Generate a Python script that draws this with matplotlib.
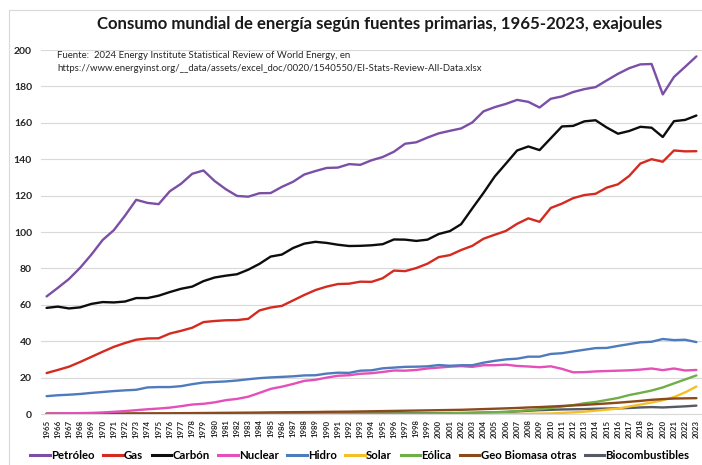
import matplotlib
matplotlib.use("Agg")
import matplotlib.pyplot as plt
from matplotlib.lines import Line2D
import numpy as np

years = list(range(1965, 2024))

petroleo = [64.6, 69.3, 74.2, 80.4, 87.6, 95.6, 101.0, 109.0, 117.7, 116.0,
            115.3, 122.4, 126.5, 132.0, 133.8, 128.0, 123.5, 119.8, 119.4, 121.3,
            121.4, 124.8, 127.6, 131.6, 133.5, 135.2, 135.4, 137.3, 136.9, 139.4,
            141.2, 144.1, 148.5, 149.3, 151.9, 154.2, 155.6, 156.9, 160.2, 166.3,
            168.6, 170.4, 172.6, 171.5, 168.4, 173.2, 174.5, 176.9, 178.5, 179.6,
            183.3, 186.9, 190.0, 192.1, 192.3, 175.6, 185.2, 190.8, 196.5]
gas = [22.5, 24.2, 26.0, 28.6, 31.4, 34.2, 36.9, 39.0, 40.8, 41.5,
       41.6, 44.2, 45.7, 47.4, 50.5, 51.1, 51.5, 51.6, 52.3, 56.9,
       58.5, 59.4, 62.4, 65.4, 68.1, 70.0, 71.4, 71.6, 72.7, 72.6,
       74.6, 78.8, 78.5, 80.2, 82.6, 86.2, 87.3, 90.1, 92.4, 96.3,
       98.5, 100.6, 104.5, 107.5, 105.6, 113.2, 115.6, 118.6, 120.3, 121.0,
       124.4, 126.2, 130.8, 137.6, 140.0, 138.6, 144.8, 144.3, 144.4]
carbon = [58.3, 59.0, 58.0, 58.6, 60.5, 61.5, 61.3, 61.8, 63.7, 63.7,
          65.0, 67.0, 68.8, 70.0, 73.0, 75.0, 76.0, 76.8, 79.3, 82.5,
          86.5, 87.6, 91.2, 93.6, 94.6, 94.0, 93.0, 92.3, 92.4, 92.7,
          93.3, 95.9, 95.8, 95.1, 95.8, 98.9, 100.5, 104.3, 113.0, 121.5,
          130.5, 137.6, 144.8, 147.0, 145.0, 151.5, 158.0, 158.3, 160.8, 161.4,
          157.4, 154.0, 155.5, 157.8, 157.3, 152.2, 160.9, 161.6, 164.0]
nuclear = [0.25, 0.35, 0.4, 0.5, 0.6, 0.85, 1.2, 1.6, 2.1, 2.6,
           3.0, 3.5, 4.3, 5.2, 5.6, 6.4, 7.6, 8.3, 9.5, 11.6,
           13.8, 15.0, 16.5, 18.2, 18.8, 20.0, 21.0, 21.3, 22.1, 22.4,
           23.1, 23.9, 23.8, 24.2, 25.0, 25.5, 26.0, 26.3, 25.9, 26.8,
           26.8, 27.1, 26.4, 26.1, 25.7, 26.2, 24.8, 22.9, 23.0, 23.4,
           23.6, 23.8, 24.0, 24.4, 25.0, 24.1, 25.0, 23.9, 24.2]
hidro = [9.8, 10.3, 10.6, 11.0, 11.6, 12.1, 12.6, 13.0, 13.3, 14.6,
         14.8, 14.8, 15.3, 16.4, 17.3, 17.6, 17.9, 18.4, 19.1, 19.7,
         20.1, 20.4, 20.7, 21.2, 21.3, 22.2, 22.7, 22.6, 23.8, 24.0,
         25.1, 25.5, 25.9, 26.0, 26.2, 26.9, 26.5, 26.8, 26.8, 28.2,
         29.2, 30.0, 30.4, 31.5, 31.5, 33.0, 33.4, 34.4, 35.3, 36.2,
         36.3, 37.4, 38.4, 39.4, 39.7, 41.2, 40.6, 40.8, 39.5]
solar = [0.0, 0.0, 0.0, 0.0, 0.0, 0.0, 0.0, 0.0, 0.0, 0.0,
         0.0, 0.0, 0.0, 0.0, 0.0, 0.0, 0.0, 0.0, 0.0, 0.0,
         0.0, 0.0, 0.0, 0.0, 0.0, 0.0, 0.0, 0.0, 0.0, 0.0,
         0.0, 0.0, 0.0, 0.01, 0.01, 0.01, 0.01, 0.02, 0.02, 0.03,
         0.04, 0.05, 0.07, 0.1, 0.2, 0.3, 0.6, 0.9, 1.3, 1.8,
         2.4, 3.0, 4.1, 5.2, 6.3, 7.6, 9.3, 11.9, 15.1]
eolica = [0.0, 0.0, 0.0, 0.0, 0.0, 0.0, 0.0, 0.0, 0.0, 0.0,
          0.0, 0.0, 0.0, 0.0, 0.0, 0.0, 0.0, 0.0, 0.0, 0.0,
          0.0, 0.0, 0.01, 0.01, 0.02, 0.04, 0.04, 0.05, 0.06, 0.07,
          0.08, 0.1, 0.12, 0.15, 0.2, 0.3, 0.37, 0.5, 0.6, 0.8,
          1.0, 1.2, 1.6, 2.1, 2.6, 3.3, 4.1, 4.9, 5.9, 6.6,
          7.7, 8.8, 10.4, 11.6, 12.9, 14.6, 16.8, 19.0, 21.2]
geo_bio = [0.2, 0.2, 0.2, 0.25, 0.25, 0.3, 0.3, 0.3, 0.35, 0.35,
           0.4, 0.4, 0.45, 0.5, 0.55, 0.6, 0.65, 0.7, 0.75, 0.8,
           0.9, 0.95, 1.0, 1.05, 1.1, 1.2, 1.25, 1.3, 1.4, 1.5,
           1.6, 1.7, 1.8, 1.9, 2.0, 2.1, 2.2, 2.3, 2.5, 2.7,
           2.9, 3.1, 3.3, 3.6, 3.8, 4.1, 4.4, 4.7, 5.0, 5.4,
           5.8, 6.2, 6.7, 7.2, 7.8, 8.2, 8.5, 8.6, 8.7]
biocomb = [0.0, 0.0, 0.0, 0.0, 0.0, 0.0, 0.0, 0.0, 0.0, 0.0,
           0.0, 0.0, 0.0, 0.0, 0.0, 0.02, 0.05, 0.08, 0.1, 0.15,
           0.2, 0.25, 0.28, 0.3, 0.32, 0.35, 0.35, 0.36, 0.37, 0.38,
           0.4, 0.4, 0.41, 0.42, 0.43, 0.45, 0.5, 0.55, 0.65, 0.75,
           0.9, 1.1, 1.4, 1.8, 2.1, 2.3, 2.5, 2.6, 2.7, 2.9,
           3.0, 3.1, 3.3, 3.6, 3.8, 3.6, 3.9, 4.2, 4.6]

series = [
    ("Petróleo", petroleo, "#7b4fa6"),
    ("Gas", gas, "#d42a20"),
    ("Carbón", carbon, "#0d0d0d"),
    ("Nuclear", nuclear, "#e44fb8"),
    ("Hidro", hidro, "#4f7bbd"),
    ("Solar", solar, "#f5c027"),
    ("Eólica", eolica, "#6fae48"),
    ("Geo Biomasa otras", geo_bio, "#8a4a1c"),
    ("Biocombustibles", biocomb, "#555a64"),
]

plt.rcParams['font.family'] = ['Lato', 'DejaVu Sans']

fig = plt.figure(figsize=(7.02, 4.65), dpi=100)
ax = fig.add_axes([41/702, 1 - 414/465, 1 - 41/702, (414 - 50)/465])

x = np.arange(len(years))
zorders = [5, 5, 5, 5, 5, 4, 4, 4, 3]
for (name, vals, col), z in zip(series, zorders):
    ax.plot(x, vals, color=col, lw=1.7, zorder=z, solid_capstyle='round')

ax.set_xlim(-0.5, len(years) - 0.5)
ax.set_ylim(0, 200)
ax.set_yticks(range(0, 201, 20))
ax.set_yticklabels([str(v) for v in range(0, 201, 20)], fontsize=7.5, fontweight='bold', color='#262626')
ax.set_xticks(x)
ax.set_xticklabels([str(y) for y in years], rotation=90, fontsize=5.6, fontweight='bold', color='#262626')
ax.tick_params(axis='y', length=0, pad=6.5)
ax.tick_params(axis='x', length=0, pad=4)
ax.grid(axis='y', color='#d9d9d9', lw=0.8, zorder=0)
ax.set_axisbelow(True)
for s in ['top', 'right', 'left']:
    ax.spines[s].set_visible(False)
ax.spines['bottom'].set_color('#d9d9d9')
ax.spines['bottom'].set_linewidth(0.8)

fig.text(380/702, 1 - 24/465, "Consumo mundial de energía según fuentes primarias, 1965-2023, exajoules",
         ha='center', va='center', fontsize=12.1, fontweight='bold', color='#1a1a1a')

ax.text(57/702, 1 - 62/465,
        "Fuente:  2024 Energy Institute Statistical Review of World Energy, en\n"
        "https://www.energyinst.org/__data/assets/excel_doc/0020/1540550/EI-Stats-Review-All-Data.xlsx",
        transform=fig.transFigure, ha='left', va='center', fontsize=6.9, color='#262626',
        linespacing=1.55)

handles = [Line2D([0], [0], color=c, lw=2.2) for _, _, c in series]
labels = [n for n, _, _ in series]
fig.legend(handles, labels, loc='center', bbox_to_anchor=(360/702, 1 - 455/465), ncol=9,
           frameon=False, prop={'weight': 'bold', 'size': 8.2},
           handlelength=1.7, handletextpad=0.12, columnspacing=0.75, borderaxespad=0,
           borderpad=0)

# chart border
fig.add_artist(Line2D([9/702, 9/702], [0, 1 - 10/465], transform=fig.transFigure, color='#d9d9d9', lw=0.8))
fig.add_artist(Line2D([9/702, 1], [1 - 10/465, 1 - 10/465], transform=fig.transFigure, color='#d9d9d9', lw=0.8))

fig.savefig("out.png", dpi=100)
